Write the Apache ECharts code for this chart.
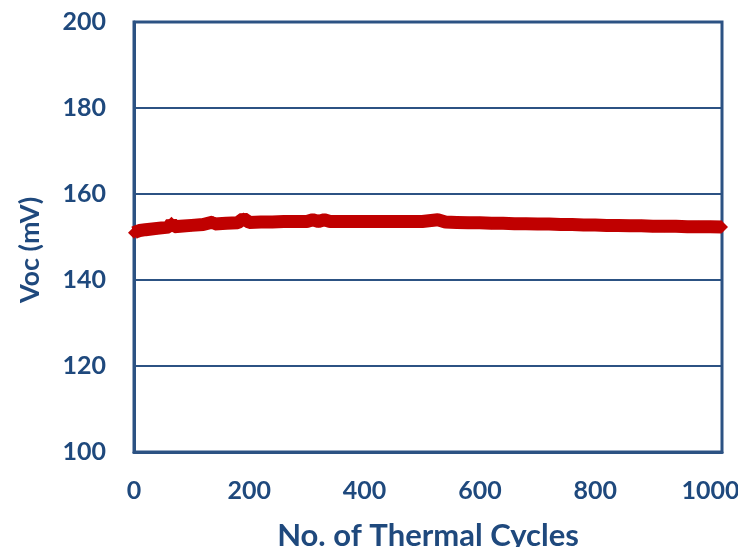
<!DOCTYPE html>
<html>
<head>
<meta charset="utf-8">
<script src="https://cdn.jsdelivr.net/npm/echarts@6/dist/echarts.min.js"></script>
<style>
  html, body { margin: 0; padding: 0; background: #fff; }
  #chart { width: 738px; height: 547px; }
</style>
</head>
<body>
<div id="chart"></div>
<script>
// cycles (x) and open-circuit voltage in mV (y)
var cycles = [0, 5, 10, 20, 40, 60, 65, 70, 80, 100, 120, 137, 140, 160, 180, 190, 200,
  220, 240, 260, 280, 300, 310, 320, 330, 340, 360, 380, 400, 420, 440, 460, 480, 500,
  527, 540, 560, 580, 600, 620, 640, 660, 680, 700, 720, 740, 760, 780, 800, 820, 840,
  860, 880, 900, 920, 940, 960, 980, 1000, 1020];
var voc = [151.0, 151.3, 151.5, 151.7, 152.0, 152.3, 153.3, 152.4, 152.5, 152.7, 152.9, 153.5, 153.0, 153.2, 153.3, 154.3, 153.4,
  153.5, 153.5, 153.6, 153.6, 153.6, 154.0, 153.6, 154.0, 153.6, 153.6, 153.6, 153.6, 153.6, 153.6, 153.6, 153.6, 153.6,
  154.0, 153.5, 153.4, 153.3, 153.3, 153.2, 153.2, 153.1, 153.1, 153.0, 153.0, 152.9, 152.9, 152.8, 152.8, 152.7, 152.7,
  152.6, 152.6, 152.5, 152.5, 152.5, 152.4, 152.4, 152.4, 152.3];

var xTicks = [0, 200, 400, 600, 800, 1000];
var yMin = 100, yMax = 200, yStep = 20;

var ink = '#1F497D';
var frame = '#2C5283';
var font = 'Lato';

var points = cycles.map(function (c, i) { return [c, voc[i]]; });

var myChart = echarts.init(document.getElementById('chart'));
myChart.setOption({
  animation: false,
  grid: {
    left: 134, right: 16, top: 22, bottom: 95,
    outerBoundsMode: 'none',
    show: true, borderColor: frame, borderWidth: 3
  },
  xAxis: {
    type: 'value',
    min: 0, max: 1020, interval: 200,
    name: 'No. of Thermal Cycles',
    nameLocation: 'middle',
    nameGap: 68,
    nameTextStyle: { color: ink, fontFamily: font, fontWeight: 'bold', fontSize: 31 },
    axisLine: { show: true, lineStyle: { color: frame, width: 3 } },
    axisTick: { show: false },
    splitLine: { show: false },
    axisLabel: {
      margin: 26, color: ink, fontFamily: font, fontWeight: 'bold', fontSize: 25,
      formatter: function (v) { return xTicks.indexOf(v) >= 0 ? String(v) : ''; }
    }
  },
  yAxis: {
    type: 'value',
    min: yMin, max: yMax, interval: yStep,
    name: 'Voc (mV)',
    nameLocation: 'middle',
    nameGap: 90,
    nameTextStyle: { color: ink, fontFamily: font, fontWeight: 'bold', fontSize: 27, padding: [0, 26, 0, 0] },
    axisLine: { show: true, lineStyle: { color: frame, width: 3 } },
    axisTick: { show: false },
    splitLine: { show: true, lineStyle: { color: frame, width: 2 } },
    axisLabel: { margin: 28, color: ink, fontFamily: font, fontWeight: 'bold', fontSize: 25 }
  },
  series: [{
    type: 'line',
    data: points,
    symbol: 'diamond',
    symbolSize: 12,
    showSymbol: true,
    itemStyle: { color: '#C00000' },
    lineStyle: { color: '#C00000', width: 13 }
  }]
});
</script>
</body>
</html>
